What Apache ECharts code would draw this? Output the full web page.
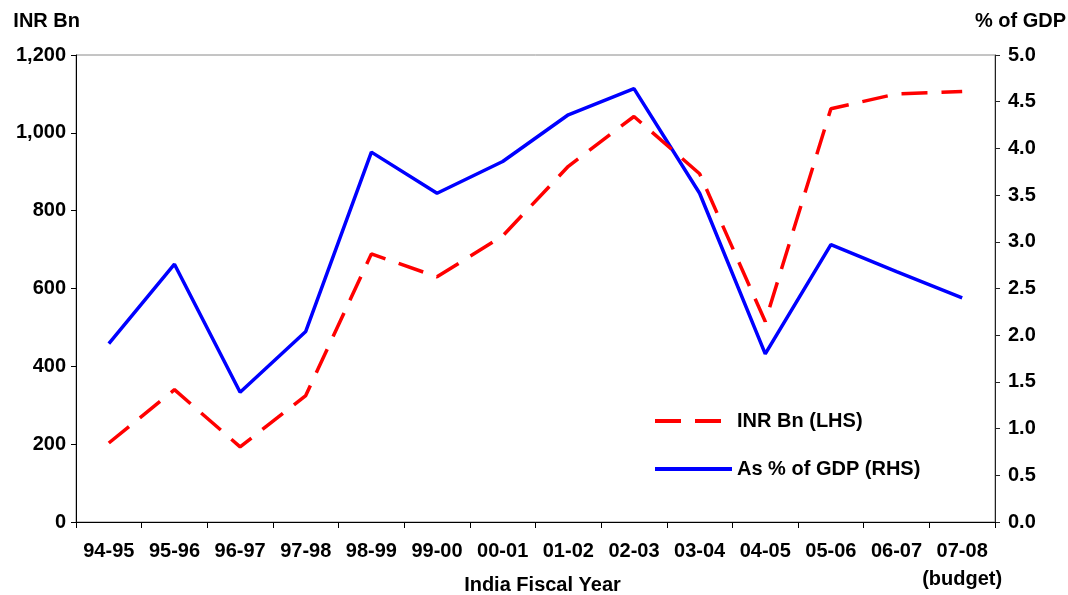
<!DOCTYPE html>
<html>
<head>
<meta charset="utf-8">
<script src="https://cdn.jsdelivr.net/npm/echarts@6/dist/echarts.min.js"></script>
<style>html,body{margin:0;padding:0;background:#fff}#c{width:1068px;height:595px}</style>
</head>
<body>
<div id="c"></div>
<script>
const categories = ['94-95','95-96','96-97','97-98','98-99','99-00','00-01','01-02','02-03','03-04','04-05','05-06','06-07','07-08\n(budget)'];
const inrBn = [203, 340, 193, 325, 689, 630, 735, 914, 1042, 895, 515, 1062, 1100, 1106];
const pctGdp = [1.91, 2.76, 1.39, 2.04, 3.96, 3.52, 3.86, 4.36, 4.64, 3.52, 1.80, 2.97, 2.68, 2.40];
const seriesNames = ['INR Bn (LHS)', 'As % of GDP (RHS)'];

const FONT = "'Liberation Sans', Arial, sans-serif";
const chart = echarts.init(document.getElementById('c'), null, {renderer: 'canvas'});
chart.setOption({
  animation: false,
  backgroundColor: '#fff',
  textStyle: {fontFamily: FONT},
  grid: {left: 76, right: 73, top: 55, bottom: 73, containLabel: false, outerBoundsMode: 'none',
    show: true, borderColor: '#8a8a8a', borderWidth: 1, backgroundColor: 'transparent'},
  legend: {
    data: seriesNames,
    orient: 'vertical',
    left: 653, top: 411, padding: 0,
    itemWidth: 77, itemHeight: 20, itemGap: 28,
    itemStyle: {opacity: 0},
    lineStyle: {width: 4},
    textStyle: {fontFamily: FONT, fontSize: 20, fontWeight: 'bold', color: '#000'},
    selectedMode: false
  },
  xAxis: {
    type: 'category',
    data: categories,
    boundaryGap: true,
    axisLine: {lineStyle: {color: '#000', width: 1}},
    axisTick: {show: true, length: 6, lineStyle: {color: '#000'}},
    axisLabel: {fontFamily: FONT, fontSize: 20, fontWeight: 'bold', color: '#000', margin: 15, lineHeight: 28, interval: 0},
    name: 'India Fiscal Year',
    nameLocation: 'middle',
    nameGap: 53,
    nameMoveOverlap: false,
    nameTextStyle: {fontFamily: FONT, fontSize: 20, fontWeight: 'bold', color: '#000', padding: [0,0,0,14]}
  },
  yAxis: [
    {
      type: 'value', min: 0, max: 1200, interval: 200,
      position: 'left',
      axisLine: {show: true, lineStyle: {color: '#000', width: 1}},
      axisTick: {show: true, length: 5, lineStyle: {color: '#000'}},
      splitLine: {show: false},
      axisLabel: {fontFamily: FONT, fontSize: 20, fontWeight: 'bold', color: '#000', margin: 10,
        formatter: v => v.toLocaleString('en-US')},
      name: 'INR Bn',
      nameLocation: 'end',
      nameGap: 24,
      nameMoveOverlap: false,
      nameTextStyle: {fontFamily: FONT, fontSize: 20, fontWeight: 'bold', color: '#000', align: 'right', padding: [0,-4,0,0]}
    },
    {
      type: 'value', min: 0, max: 5, interval: 0.5,
      position: 'right',
      axisLine: {show: true, lineStyle: {color: '#222', width: 1}},
      axisTick: {show: true, length: 5, lineStyle: {color: '#222'}},
      splitLine: {show: false},
      axisLabel: {fontFamily: FONT, fontSize: 20, fontWeight: 'bold', color: '#000', margin: 13,
        formatter: v => v.toFixed(1)},
      name: '% of GDP',
      nameLocation: 'end',
      nameGap: 24,
      nameMoveOverlap: false,
      nameTextStyle: {fontFamily: FONT, fontSize: 20, fontWeight: 'bold', color: '#000', align: 'left', padding: [0,0,0,-20]}
    }
  ],
  series: [
    {
      name: seriesNames[0], type: 'line', yAxisIndex: 0, data: inrBn,
      symbol: 'none', z: 3,
      lineStyle: {color: '#ff0000', width: 3.5, type: [26, 14]},
      itemStyle: {color: '#ff0000'}
    },
    {
      name: seriesNames[1], type: 'line', yAxisIndex: 1, data: pctGdp,
      symbol: 'none', z: 2,
      lineStyle: {color: '#0000ff', width: 3.5},
      itemStyle: {color: '#0000ff'}
    }
  ]
});
</script>
</body>
</html>
